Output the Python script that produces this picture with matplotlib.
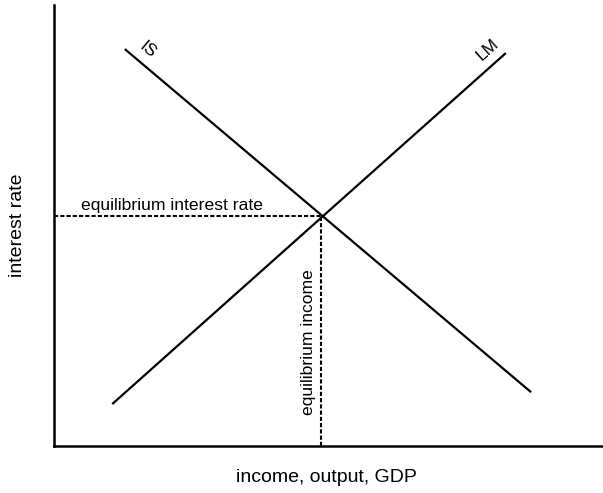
import matplotlib
matplotlib.use("Agg")
import matplotlib.pyplot as plt

plt.rcParams['font.family'] = ['Liberation Sans', 'DejaVu Sans']

# curve endpoints (abstract units, 0..100)
is_x = [12.9, 86.9]
is_y = [90.0, 12.2]
lm_x = [10.6, 82.3]
lm_y = [9.5, 89.1]
eq_x = 48.6
eq_y = 52.2

curve_labels = ["IS", "LM"]
x_label = "income, output, GDP"
y_label = "interest rate"
eq_rate_label = "equilibrium interest rate"
eq_income_label = "equilibrium income"

fig = plt.figure(figsize=(6.03, 4.93), dpi=100)
ax = fig.add_axes([54/603, (493-446)/493, 549/603, 441/493])
ax.set_xlim(0, 100)
ax.set_ylim(0, 100)
for s in ['top', 'right']:
    ax.spines[s].set_visible(False)
for s in ['left', 'bottom']:
    ax.spines[s].set_linewidth(1.8)
ax.set_xticks([])
ax.set_yticks([])

ax.plot(is_x, is_y, color='black', lw=1.6, solid_capstyle='butt')
ax.plot(lm_x, lm_y, color='black', lw=1.6, solid_capstyle='butt')
ax.plot([0, eq_x], [eq_y, eq_y], color='black', lw=1.5, dashes=(2, 1))
ax.plot([eq_x, eq_x], [0, eq_y], color='black', lw=1.5, dashes=(2, 1))

ax.text(17.1, 89.8, curve_labels[0], rotation=-40, ha='center', va='center', fontsize=12.5)
ax.text(78.9, 89.8, curve_labels[1], rotation=41.7, ha='center', va='center', fontsize=12.5)
ax.text(4.9, 53.5, eq_rate_label, ha='left', va='baseline', fontsize=12.6)
ax.text(46.3, 23.5, eq_income_label, rotation=90, ha='center', va='center', fontsize=12.6)

fig.text(18/603, 1-225/493, y_label, rotation=90, ha='center', va='center', fontsize=14)
fig.text(326/603, 1-478/493, x_label, ha='center', va='center', fontsize=14)

fig.savefig("out.png", dpi=100)
